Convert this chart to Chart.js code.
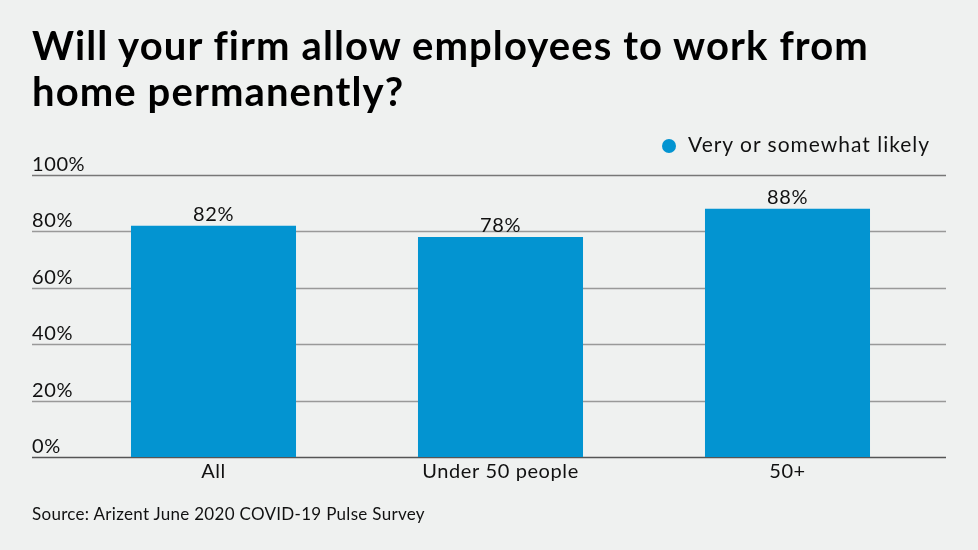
<!DOCTYPE html>
<html>
<head>
<meta charset="utf-8">
<script src="https://cdn.jsdelivr.net/npm/chart.js@4/dist/chart.umd.min.js"></script>
<style>
  html, body { margin: 0; padding: 0; background: #eff1f0; }
  body { width: 978px; height: 550px; position: relative; overflow: hidden; font-family: Lato, "Noto Sans", sans-serif; }
  #title { position: absolute; left: 32px; top: 22px; margin: 0; font-size: 40px; line-height: 46px; font-weight: 700; color: #000; letter-spacing: 1.1px; }
  #legend { position: absolute; left: 662px; top: 131px; font-size: 21px; color: #111; letter-spacing: 1px; }
  #legend .dot { display: inline-block; width: 14px; height: 14px; border-radius: 50%; background: #0394d1; margin-right: 12px; vertical-align: -1px; }
  #source { position: absolute; left: 32px; top: 503px; font-size: 17px; color: #111; letter-spacing: 0.3px; }
  #wrap { position: absolute; left: 0; top: 0; width: 978px; height: 550px; }
</style>
</head>
<body>
<div id="wrap"><canvas id="chart" width="978" height="550"></canvas></div>
<h1 id="title">Will your firm allow employees to work from<br>home permanently?</h1>
<div id="legend"><span class="dot"></span>Very or somewhat likely</div>
<div id="source">Source: Arizent June 2020 COVID-19 Pulse Survey</div>
<script>
const categories = ['All', 'Under 50 people', '50+'];
const likelyValues = [82, 78, 88];
const yTicks = [0, 20, 40, 60, 80, 100];

const barColor = '#0394d1';
const chartCanvas = document.getElementById('chart');
const labelFont = '20px Lato, "Noto Sans", sans-serif';

// gridlines, tick labels and value labels drawn from the scales
const decorations = {
    id: 'decorations',
    beforeDatasetsDraw(chart) {
        const ctx = chart.ctx;
        const y = chart.scales.y;
        ctx.save();
        ctx.letterSpacing = '0.6px';
        yTicks.forEach(t => {
            const py = Math.round(y.getPixelForValue(t)) + 0.5;
            ctx.strokeStyle = t === 0 ? '#555' : (t === 100 ? '#777' : '#999');
            ctx.lineWidth = 1.3;
            ctx.beginPath();
            ctx.moveTo(32, py);
            ctx.lineTo(946, py);
            ctx.stroke();
            ctx.fillStyle = '#111';
            ctx.font = labelFont;
            ctx.textAlign = 'left';
            ctx.textBaseline = 'alphabetic';
            ctx.fillText(t + '%', 32, py - 5);
        });
        ctx.restore();
    },
    afterDatasetsDraw(chart) {
        const ctx = chart.ctx;
        const x = chart.scales.x;
        const y = chart.scales.y;
        ctx.save();
        ctx.letterSpacing = '0.6px';
        ctx.fillStyle = '#111';
        ctx.font = labelFont;
        ctx.textAlign = 'center';
        ctx.textBaseline = 'alphabetic';
        categories.forEach((c, i) => {
            const px = x.getPixelForValue(i);
            ctx.fillText(c, px, y.getPixelForValue(0) + 21);
            ctx.fillText(likelyValues[i] + '%', px, y.getPixelForValue(likelyValues[i]) - 5);
        });
        ctx.restore();
    }
};

new Chart(chartCanvas, {
    type: 'bar',
    data: {
        labels: categories,
        datasets: [{
            label: 'Very or somewhat likely',
            data: likelyValues,
            backgroundColor: barColor,
            borderWidth: 0,
            barPercentage: 0.575,
            categoryPercentage: 1
        }]
    },
    options: {
        responsive: false,
        animation: false,
        maintainAspectRatio: false,
        layout: { padding: { left: 70, right: 47, top: 175, bottom: 93 } },
        plugins: { legend: { display: false }, tooltip: { enabled: false } },
        scales: {
            x: { display: false },
            y: { display: false, min: 0, max: 100 }
        }
    },
    plugins: [decorations]
});
</script>
</body>
</html>
